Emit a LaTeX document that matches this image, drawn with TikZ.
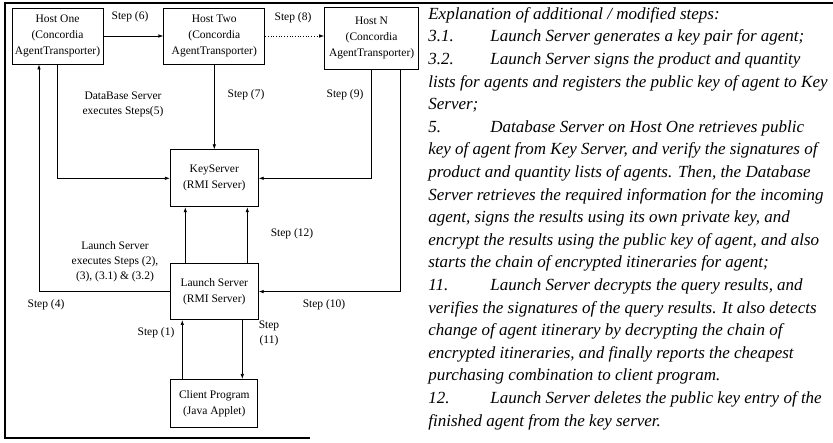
\documentclass[tikz,border=0pt]{standalone}
\usepackage{fontspec}
\setmainfont{Liberation Serif}
\usetikzlibrary{arrows.meta, positioning}
\tikzstyle{flow}=[x=1pt, y=-1pt, line width=0.7pt, >={Latex[length=5pt,width=3.5pt]}]
\tikzstyle{box}=[draw, line width=0.8pt, align=center, inner sep=0pt, font=\fontsize{11.5}{16}\selectfont]
\tikzstyle{steplabel}=[align=center, inner sep=0pt, font=\fontsize{11.5}{15}\selectfont]

\begin{document}
\begin{tikzpicture}[flow]
  \useasboundingbox (0,0) rectangle (833,443);
  \draw[line width=1.6pt] (833,3) -- (5,3) -- (5,438) -- (310,438);
  \node[box, minimum width=91pt, minimum height=56pt] (h1) at (57.5,36) {Host One\\(Concordia\\AgentTransporter)};
  \node[box, minimum width=101pt, minimum height=56pt] (h2) [right=60pt of h1] {Host Two\\(Concordia\\AgentTransporter)};
  \node[box, minimum width=94pt, minimum height=62pt] (hn) [right=59pt of h2, yshift=-2pt] {Host N\\(Concordia\\AgentTransporter)};
  \node[box, minimum width=88pt, minimum height=57pt] (key) [below=85pt of h2] {KeyServer\\(RMI Server)};
  \node[box, minimum width=88pt, minimum height=56pt] (launch) [below=56pt of key] {Launch Server\\(RMI Server)};
  \node[box, minimum width=87pt, minimum height=48pt] (client) [below=59pt of launch] {Client Program\\(Java Applet)};
  \path[->] (h1.east) edge (h1.east -| h2.west);
  \path[->] (h2.east) edge[dotted] (h2.east -| hn.west);
  \draw[->] (h1.south) |- (key.west);
  \draw[->] (h2) -- (key);
  \draw[->] (hn.south) |- (key.east);
  \draw[->] ([xshift=29pt]hn.south) |- (launch.east);
  \draw[->] (launch.west) -| ([xshift=-18.5pt]h1.south);
  \draw[->] ([xshift=-29pt]launch.north) -- ([xshift=-29pt]key.south);
  \draw[->] ([xshift=33pt]launch.north) -- ([xshift=33pt]key.south);
  \draw[->] ([xshift=-32pt]client.north) -- ([xshift=-32pt]client.north |- launch.south);
  \draw[->] ([xshift=28pt]launch.south) -- ([xshift=28pt]launch.south |- client.north);
  \node[steplabel] (s6) at (130,17) {Step (6)};
  \node[steplabel] (s8) at (293,18) {Step (8)};
  \node[steplabel] (s5) at (123,104) {DataBase Server\\executes Steps(5)};
  \node[steplabel] (s7) at (246,95) {Step (7)};
  \node[steplabel] (s9) at (345,95) {Step (9)};
  \node[steplabel] (s12) at (292,234) {Step (12)};
  \node[steplabel] (s23) at (115,262) {Launch Server\\executes Steps (2),\\(3), (3.1) \& (3.2)};
  \node[steplabel] (s4) at (46,305) {Step (4)};
  \node[steplabel] (s10) at (324,305) {Step (10)};
  \node[steplabel] (s1) at (156,333) {Step (1)};
  \node[steplabel] (s11) at (269,333) {Step\\(11)};
  \node[anchor=north west, inner sep=0pt, align=left, font=\fontsize{17}{22.6}\selectfont\itshape] (notes) at (428,7) {%
    Explanation of additional / modified steps:\\
    \makebox[62pt][l]{3.1.}Launch Server generates a key pair for agent;\\
    \makebox[62pt][l]{3.2.}Launch Server signs the product and quantity\\
    lists for agents and registers the public key of agent to Key\\
    Server;\\
    \makebox[62pt][l]{5.}Database Server on Host One retrieves public\\
    key of agent from Key Server, and verify the signatures of\\
    product and quantity lists of agents. Then, the Database\\
    Server retrieves the required information for the incoming\\
    agent, signs the results using its own private key, and\\
    encrypt the results using the public key of agent, and also\\
    starts the chain of encrypted itineraries for agent;\\
    \makebox[62pt][l]{11.}Launch Server decrypts the query results, and\\
    verifies the signatures of the query results. It also detects\\
    change of agent itinerary by decrypting the chain of\\
    encrypted itineraries, and finally reports the cheapest\\
    purchasing combination to client program.\\
    \makebox[62pt][l]{12.}Launch Server deletes the public key entry of the\\
    finished agent from the key server.};
\end{tikzpicture}
\end{document}
